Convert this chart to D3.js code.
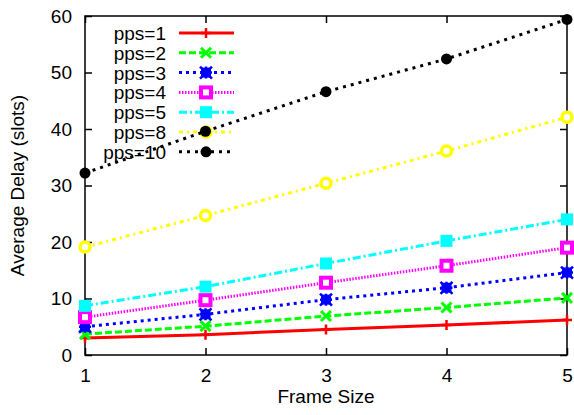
<!DOCTYPE html>
<html>
<head>
<meta charset="utf-8">
<script src="https://cdn.jsdelivr.net/npm/d3@7"></script>
<style>
  body { margin: 0; background: #fff; }
  svg text { font-family: "Liberation Sans", Arial, sans-serif; fill: #000; }
</style>
</head>
<body>
<div id="chart"></div>
<script>
// data
const frameSizes = [1, 2, 3, 4, 5];
const seriesNames = ["pps=1", "pps=2", "pps=3", "pps=4", "pps=5", "pps=8", "pps=10"];
const pps1 = [3.0, 3.6, 4.5, 5.3, 6.2];
const pps2 = [3.7, 5.1, 6.9, 8.4, 10.1];
const pps3 = [5.0, 7.2, 9.8, 11.9, 14.6];
const pps4 = [6.7, 9.7, 12.8, 15.8, 19.0];
const pps5 = [8.7, 12.1, 16.2, 20.2, 24.0];
const pps8 = [19.1, 24.7, 30.4, 36.1, 42.1];
const pps10 = [32.2, 39.6, 46.6, 52.4, 59.4];
const yTicks = [0, 10, 20, 30, 40, 50, 60];
const xTicks = [1, 2, 3, 4, 5];

const colors = ["#ff0000", "#00ff00", "#0000ff", "#ff00ff", "#00ffff", "#ffff00", "#000000"];
const dashes = [null, "7,3", "3,4", "1.5,1.5", "8,3,2,3", "4,4,2,4", "3,5"];
const markers = ["plus", "cross", "star", "boxOpen", "box", "circleOpen", "circle"];

const series = [pps1, pps2, pps3, pps4, pps5, pps8, pps10].map((v, i) => ({
  name: seriesNames[i],
  values: v,
  color: colors[i],
  dash: dashes[i],
  marker: markers[i],
}));

const width = 574, height = 415;
const margin = { top: 16, right: 7, bottom: 60, left: 85 };
const fontSize = "19px";

const svg = d3.select("#chart").append("svg")
  .attr("width", width).attr("height", height);

const x = d3.scaleLinear([1, 5], [margin.left, width - margin.right]);
const y = d3.scaleLinear([0, 60], [height - margin.bottom, margin.top]);

// axes (ticks inward on all sides, like gnuplot)
const tick = 7;
svg.append("g")
  .attr("transform", `translate(${margin.left},0)`)
  .call(d3.axisLeft(y).tickValues(yTicks).tickSize(-tick).tickPadding(tick + 6))
  .call(g => g.select(".domain").remove());
svg.append("g")
  .attr("transform", `translate(${width - margin.right},0)`)
  .call(d3.axisRight(y).tickValues(yTicks).tickSize(-tick).tickFormat(""))
  .call(g => g.select(".domain").remove());
svg.append("g")
  .attr("transform", `translate(0,${height - margin.bottom})`)
  .call(d3.axisBottom(x).tickValues(xTicks).tickSize(-tick).tickPadding(tick + 7).tickFormat(d3.format("d")))
  .call(g => g.select(".domain").remove());
svg.append("g")
  .attr("transform", `translate(0,${margin.top})`)
  .call(d3.axisTop(x).tickValues(xTicks).tickSize(-tick).tickFormat(""))
  .call(g => g.select(".domain").remove());

svg.selectAll(".tick line").attr("stroke", "#000").attr("stroke-width", 1.5);
svg.selectAll(".tick text").style("font-size", fontSize);

svg.append("rect")
  .attr("x", margin.left).attr("y", margin.top)
  .attr("width", width - margin.right - margin.left)
  .attr("height", height - margin.bottom - margin.top)
  .attr("fill", "none").attr("stroke", "#000").attr("stroke-width", 1.5);

svg.append("text")
  .attr("text-anchor", "middle")
  .attr("x", (margin.left + width - margin.right) / 2)
  .attr("y", 403)
  .style("font-size", fontSize)
  .text("Frame Size");
svg.append("text")
  .attr("text-anchor", "middle")
  .attr("transform", "rotate(-90)")
  .attr("x", -(margin.top + height - margin.bottom) / 2)
  .attr("y", 24)
  .style("font-size", fontSize)
  .text("Average Delay (slots)");

// markers
function drawMarker(g, type, color, cx, cy) {
  const s = 5;
  if (type === "plus") {
    g.append("path").attr("d", `M${cx - s},${cy}H${cx + s}M${cx},${cy - s}V${cy + s}`)
      .attr("stroke", color).attr("stroke-width", 2.5);
  } else if (type === "cross") {
    g.append("path").attr("d", `M${cx - s},${cy - s}L${cx + s},${cy + s}M${cx - s},${cy + s}L${cx + s},${cy - s}`)
      .attr("stroke", color).attr("stroke-width", 3);
  } else if (type === "star") {
    g.append("rect").attr("x", cx - 5).attr("y", cy - 5).attr("width", 10).attr("height", 10)
      .attr("fill", color);
    g.append("path").attr("d", `M${cx - 6},${cy}H${cx + 6}M${cx},${cy - 6}V${cy + 6}M${cx - 6},${cy - 6}L${cx + 6},${cy + 6}M${cx - 6},${cy + 6}L${cx + 6},${cy - 6}`)
      .attr("stroke", color).attr("stroke-width", 2.5);
  } else if (type === "boxOpen") {
    g.append("rect").attr("x", cx - 5).attr("y", cy - 5).attr("width", 10).attr("height", 10)
      .attr("fill", "#fff").attr("stroke", color).attr("stroke-width", 4);
  } else if (type === "box") {
    g.append("rect").attr("x", cx - 6).attr("y", cy - 6).attr("width", 12).attr("height", 12)
      .attr("fill", color);
  } else if (type === "circleOpen") {
    g.append("circle").attr("cx", cx).attr("cy", cy).attr("r", 5)
      .attr("fill", "#fff").attr("stroke", color).attr("stroke-width", 3.5);
  } else if (type === "circle") {
    g.append("circle").attr("cx", cx).attr("cy", cy).attr("r", 5.5).attr("fill", color);
  }
}

const line = d3.line().x((d, i) => x(frameSizes[i])).y(d => y(d));

// each series: key entry first, then its line and points (gnuplot order)
series.forEach((s, i) => {
  const g = svg.append("g");
  const ly = 33 + i * 19.8;
  g.append("text")
    .attr("x", 166).attr("y", ly + 7)
    .attr("text-anchor", "end")
    .style("font-size", fontSize)
    .text(s.name);
  g.append("line")
    .attr("x1", 179).attr("x2", 234).attr("y1", ly).attr("y2", ly)
    .attr("stroke", s.color).attr("stroke-width", 3)
    .attr("stroke-dasharray", s.dash);
  drawMarker(g, s.marker, s.color, 206, ly);

  g.append("path")
    .datum(s.values)
    .attr("d", line)
    .attr("fill", "none")
    .attr("stroke", s.color)
    .attr("stroke-width", 3)
    .attr("stroke-dasharray", s.dash);
  s.values.forEach((v, j) => drawMarker(g, s.marker, s.color, x(frameSizes[j]), y(v)));
});
</script>
</body>
</html>
